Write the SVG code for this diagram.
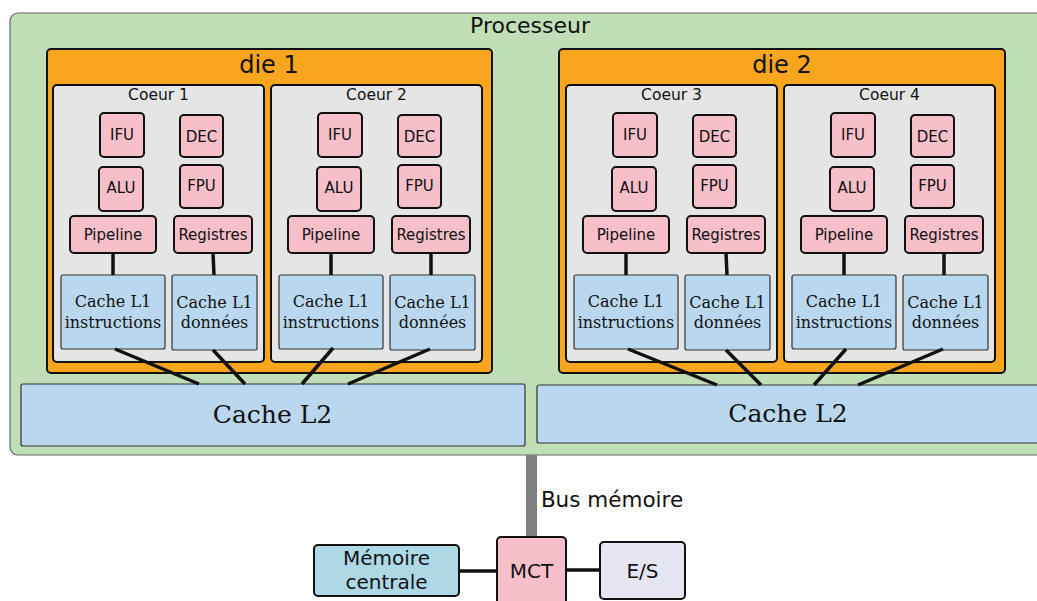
<svg xmlns="http://www.w3.org/2000/svg" width="1037" height="601" viewBox="0 0 1037 601">
<style>
.sans{font-family:"DejaVu Sans","Liberation Sans",sans-serif;fill:#111;text-anchor:middle}
.serif{font-family:"DejaVu Serif","Liberation Serif",serif;fill:#111;text-anchor:middle}
.proc{fill:#c1dfb7;stroke:#666;stroke-width:1.2}
.die{fill:#f9a51e;stroke:#111;stroke-width:2}
.core{fill:#e5e5e5;stroke:#111;stroke-width:2}
.unit{fill:#f7bfca;stroke:#111;stroke-width:2}
.l1{fill:#b9d8ef;stroke:#333;stroke-width:1.2}
.l2{fill:#b9d8ef;stroke:#333;stroke-width:1.2}
.u{font-size:15px}
.c1{font-size:16px}
.wire{stroke:#111;stroke-width:3.5;fill:none}
</style>
<defs>
<g id="coreTpl">
  <rect class="core" x="53" y="85" width="211" height="277" rx="4"/>
  <rect class="unit" x="100" y="113" width="44" height="44" rx="4"/>
  <text class="sans u" x="122" y="140" font-size="14">IFU</text>
  <rect class="unit" x="180" y="115" width="43" height="42" rx="4"/>
  <text class="sans u" x="201.5" y="142">DEC</text>
  <rect class="unit" x="99" y="167" width="44" height="44" rx="4"/>
  <text class="sans u" x="121" y="193">ALU</text>
  <rect class="unit" x="180" y="165" width="43" height="43" rx="4"/>
  <text class="sans u" x="201.5" y="191">FPU</text>
  <rect class="unit" x="70" y="216" width="86" height="37" rx="4"/>
  <text class="sans u" x="113" y="239.5">Pipeline</text>
  <rect class="unit" x="174" y="216" width="78" height="37" rx="4"/>
  <text class="sans u" x="213" y="240">Registres</text>
  <rect class="l1" x="61" y="275" width="104" height="74" rx="2"/>
  <text class="serif c1" x="113" y="307">Cache L1</text>
  <text class="serif c1" x="113" y="328">instructions</text>
  <rect class="l1" x="172" y="275" width="85" height="75" rx="2"/>
  <text class="serif c1" x="214.5" y="308">Cache L1</text>
  <text class="serif c1" x="214.5" y="328">données</text>
</g>
</defs>

<g id="processeur">
  <rect class="proc" x="10" y="13" width="1045" height="442" rx="8"/>
  <text class="sans" x="530" y="33" font-size="22">Processeur</text>
</g>

<g id="die1">
  <rect class="die" x="47" y="49" width="445" height="324" rx="4"/>
  <text class="sans" x="269" y="73" font-size="24">die 1</text>
</g>
<g id="die2">
  <rect class="die" x="559" y="49" width="446" height="324" rx="4"/>
  <text class="sans" x="782" y="73" font-size="24">die 2</text>
</g>

<g id="coeur1">
  <use href="#coreTpl"/>
  <text class="sans" x="158.5" y="100" font-size="15.5">Coeur 1</text>
</g>
<g id="coeur2" transform="translate(218,0)">
  <use href="#coreTpl"/>
  <text class="sans" x="158.5" y="100" font-size="15.5">Coeur 2</text>
</g>
<g id="coeur3" transform="translate(513,0)">
  <use href="#coreTpl"/>
  <text class="sans" x="158.5" y="100" font-size="15.5">Coeur 3</text>
</g>
<g id="coeur4" transform="translate(731,0)">
  <use href="#coreTpl"/>
  <text class="sans" x="158.5" y="100" font-size="15.5">Coeur 4</text>
</g>

<g id="cacheL2-1">
  <rect class="l2" x="21" y="384" width="504" height="62" rx="2"/>
  <text class="serif" x="272.5" y="423" font-size="25">Cache L2</text>
</g>
<g id="cacheL2-2">
  <rect class="l2" x="537" y="385" width="520" height="58" rx="2"/>
  <text class="serif" x="788" y="422" font-size="25">Cache L2</text>
</g>

<g id="connectors">
  <g class="wire">
    <line x1="113" y1="253" x2="113" y2="275"/>
    <line x1="213" y1="253" x2="214" y2="275"/>
    <line x1="331" y1="253" x2="331" y2="275"/>
    <line x1="431" y1="253" x2="431" y2="275"/>
    <line x1="626" y1="253" x2="626" y2="275"/>
    <line x1="726" y1="253" x2="727" y2="275"/>
    <line x1="844" y1="253" x2="844" y2="275"/>
    <line x1="944" y1="253" x2="944" y2="275"/>

    <line x1="115" y1="349" x2="199" y2="384"/>
    <line x1="213" y1="350" x2="245" y2="384"/>
    <line x1="333" y1="348" x2="302" y2="384"/>
    <line x1="430" y1="349" x2="348" y2="384"/>
    <line x1="628" y1="349" x2="717" y2="385"/>
    <line x1="726" y1="350" x2="761" y2="385"/>
    <line x1="846" y1="349" x2="814" y2="385"/>
    <line x1="943" y1="349" x2="858" y2="385"/>

    <line x1="459" y1="571" x2="497" y2="571"/>
    <line x1="566" y1="570" x2="600" y2="570"/>
  </g>
  <line x1="531.5" y1="455" x2="531.5" y2="537" stroke="#808080" stroke-width="11"/>
  <text class="sans" x="612" y="507" font-size="21.5">Bus mémoire</text>
</g>

<g id="memoire">
  <rect x="314" y="545" width="145" height="51" rx="4" fill="#add8e6" stroke="#111" stroke-width="2"/>
  <text class="sans" x="386.5" y="565" font-size="20">Mémoire</text>
  <text class="sans" x="386.5" y="589" font-size="20">centrale</text>
</g>
<g id="mct">
  <rect x="497" y="537" width="69" height="80" rx="4" fill="#f7bfca" stroke="#111" stroke-width="2"/>
  <text class="sans" x="531.5" y="578" font-size="20">MCT</text>
</g>
<g id="es">
  <rect x="600" y="542" width="85" height="57" rx="4" fill="#e6e6f2" stroke="#111" stroke-width="2"/>
  <text class="sans" x="642.5" y="578" font-size="20">E/S</text>
</g>
</svg>
